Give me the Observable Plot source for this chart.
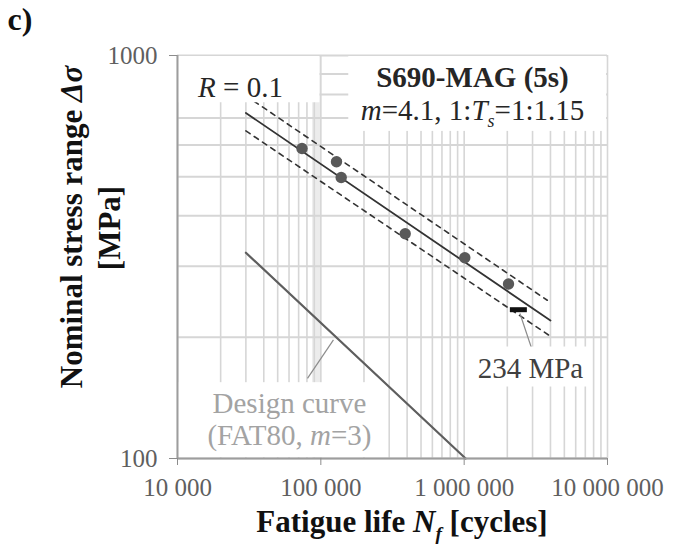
<!DOCTYPE html>
<html>
<head>
<meta charset="utf-8">
<script src="https://cdn.jsdelivr.net/npm/d3@7"></script>
<script src="https://cdn.jsdelivr.net/npm/@observablehq/plot@0.6"></script>
<style>
  html, body { margin: 0; padding: 0; background: #fff; }
</style>
</head>
<body>
<div id="chart"></div>
<script>
// Fatigue test results, S690 MAG welds (5 s), R = 0.1
const testCycles = [73900, 128600, 138700, 387800, 1010000, 2039000];
const testStress = [588, 545, 498, 361, 315, 271];

// Mean S-N curve and scatter band lines (end points)
const meanCycles = [30000, 4000000];
const meanStress = [720, 220];
const upperCycles = [30000, 3800000];
const upperStress = [795, 247];
const lowerCycles = [30000, 4000000];
const lowerStress = [650, 201];

// Design curve FAT80, m = 3 (end points)
const designCycles = [30000, 1024000];
const designStress = [324, 100];

// Characteristic stress range at 2 million cycles
const refCycles = 2000000;
const charStress = 234;

// Axes
const xDomain = [10000, 10000000];
const yDomain = [100, 1000];
const xTicks = [10000, 100000, 1000000, 10000000];
const yTicks = [100, 1000];
const shadeCycles = 93500;

// Leader lines from labels to the curves
const leaders = [
  {n1: 80700, s1: 158, n2: 122500, s2: 197},
  {n1: 2450000, s1: 229, n2: 2950000, s2: 188}
];

// Labels inside the plot (*italic*, _subscript_)
const notes = [
  {key: "r", n: 27500, s: 833, text: "*R* = 0.1", weight: "normal", fill: "#262626"},
  {key: "title", n: 1143000, s: 882, text: "S690-MAG (5s)", weight: "bold", fill: "#262626"},
  {key: "title", n: 1143000, s: 730, text: "*m*=4.1, 1:*T*_s_=1:1.15", weight: "normal", fill: "#262626"},
  {key: "mpa", n: 2900000, s: 167, text: "234 MPa", weight: "normal", fill: "#404040"},
  {key: "design", n: 60400, s: 137, text: "Design curve", weight: "normal", fill: "#a3a3a3"},
  {key: "design", n: 60400, s: 114, text: "(FAT80, *m*=3)", weight: "normal", fill: "#a3a3a3"}
];
// White label backgrounds: padding [top, right, bottom, left]
const boxPad = {r: [30, 37, 0, 30], title: [30, 30, 0, 12], design: [4, 7, 20, 40], mpa: [5, 7, 3, 7]};

const rows = (ns, ss) => ns.map((n, i) => ({n, s: ss[i]}));
const tests = rows(testCycles, testStress);
const xGrid = d3.scaleLog().domain(xDomain).ticks();
const yGrid = d3.scaleLog().domain(yDomain).ticks();
const fmtX = d => d3.format(",")(d).replace(/,/g, " ");
const fmtY = d => String(d);

const lineStyle = {x: "n", y: "s", stroke: "#333333"};

const plot = Plot.plot({
  width: 679,
  height: 547,
  marginLeft: 177,
  marginRight: 72,
  marginTop: 55,
  marginBottom: 89,
  style: {fontFamily: "'Liberation Serif', 'Times New Roman', serif", background: "#fff"},
  x: {type: "log", domain: xDomain, axis: null},
  y: {type: "log", domain: yDomain, axis: null},
  marks: [
    Plot.ruleX([shadeCycles], {stroke: "#ececec", strokeWidth: 9}),
    Plot.ruleX(xGrid, {stroke: "#d6d6d6", strokeWidth: 1.6}),
    Plot.ruleY(yGrid, {stroke: "#d6d6d6", strokeWidth: 2}),
    Plot.line(rows(designCycles, designStress), {x: "n", y: "s", stroke: "#5e5e5e", strokeWidth: 2.2}),
    Plot.line(rows(upperCycles, upperStress), {...lineStyle, strokeWidth: 1.6, strokeDasharray: "5,5"}),
    Plot.line(rows(lowerCycles, lowerStress), {...lineStyle, strokeWidth: 1.6, strokeDasharray: "5,5"}),
    Plot.line(rows(meanCycles, meanStress), {...lineStyle, strokeWidth: 1.8}),
    Plot.dot(tests, {x: "n", y: "s", r: 5.7, fill: "#595959"}),
    Plot.link(leaders, {x1: "n1", y1: "s1", x2: "n2", y2: "s2", stroke: "#8c8c8c", strokeWidth: 1.2}),
    Plot.ruleY([charStress], {x1: refCycles * 1.05, x2: refCycles * 1.38, stroke: "#111", strokeWidth: 5}),
    ...notes.map(d => Plot.text([d], {
      x: "n", y: "s", text: "text", fontSize: 29, fontWeight: d.weight, fill: d.fill,
      textAnchor: "middle", ariaDescription: d.key
    })),
    Plot.ruleX([xDomain[0]], {stroke: "#9d9d9d", strokeWidth: 2}),
    Plot.ruleY([yDomain[0]], {stroke: "#9d9d9d", strokeWidth: 2}),
    Plot.axisX({ticks: xTicks, tickFormat: fmtX, tickSize: 7, tickPadding: 13, fontSize: 25, stroke: "#8c8c8c", fill: "#5f5f5f", label: null}),
    Plot.axisY({ticks: yTicks, tickFormat: fmtY, tickSize: 8, tickPadding: 12, fontSize: 25, stroke: "#8c8c8c", fill: "#5f5f5f", label: null})
  ]
});
document.getElementById("chart").append(plot);

const NS = "http://www.w3.org/2000/svg";
// Turn *italic* and _subscript_ markup into tspans
function richify(el) {
  const src = el.textContent;
  if (!/[*_]/.test(src)) return;
  const fs = parseFloat(getComputedStyle(el).fontSize) || 16;
  el.textContent = "";
  let shift = 0;
  for (const part of src.split(/(\*[^*]+\*|_[^_]+_)/)) {
    if (!part) continue;
    const t = document.createElementNS(NS, "tspan");
    let dy;
    if (part[0] === "_") {
      t.textContent = part.slice(1, -1);
      t.setAttribute("font-style", "italic");
      t.setAttribute("font-size", fs * 0.62);
      dy = fs * 0.26 - shift; shift = fs * 0.26;
    } else {
      if (part[0] === "*") { t.textContent = part.slice(1, -1); t.setAttribute("font-style", "italic"); }
      else t.textContent = part;
      dy = -shift; shift = 0;
    }
    if (dy) t.setAttribute("dy", dy);
    el.appendChild(t);
  }
}
plot.querySelectorAll("text").forEach(richify);

// White backgrounds behind the in-plot labels
const [fx0, fx1] = d3.extent(plot.scale("x").range);
const [fy0, fy1] = d3.extent(plot.scale("y").range);
const firstNote = plot.querySelector("g[aria-description]");
for (const key of Object.keys(boxPad)) {
  const groups = plot.querySelectorAll(`g[aria-description="${key}"]`);
  let x0 = Infinity, y0 = Infinity, x1 = -Infinity, y1 = -Infinity;
  groups.forEach(g => {
    const b = g.getBBox();
    x0 = Math.min(x0, b.x); y0 = Math.min(y0, b.y);
    x1 = Math.max(x1, b.x + b.width); y1 = Math.max(y1, b.y + b.height);
  });
  const [pt, pr, pb, pl] = boxPad[key];
  const bx0 = Math.max(fx0 + 1, x0 - pl), bx1 = Math.min(fx1 - 1, x1 + pr);
  const by0 = Math.max(fy0 + 1, y0 - pt), by1 = Math.min(fy1 - 1, y1 + pb);
  const rect = document.createElementNS(NS, "rect");
  rect.setAttribute("x", bx0); rect.setAttribute("y", by0);
  rect.setAttribute("width", bx1 - bx0); rect.setAttribute("height", by1 - by0);
  rect.setAttribute("fill", "#fff");
  plot.insertBefore(rect, firstNote);
}

// Panel letter and axis titles
const svg = d3.select(plot);
svg.append("text").attr("x", 20).attr("y", 30)
  .attr("font-size", 32).attr("font-weight", "bold").attr("fill", "#111").text("c)");
svg.append("text").attr("x", 402).attr("y", 532).attr("text-anchor", "middle")
  .attr("font-size", 31).attr("font-weight", "bold").attr("fill", "#111")
  .text("Fatigue life *N*_f_ [cycles]");
svg.append("text").attr("transform", "translate(71,227) rotate(-90)").attr("dy", "0.35em")
  .attr("text-anchor", "middle").attr("font-size", 31).attr("font-weight", "bold").attr("fill", "#111")
  .text("Nominal stress range *Δσ*");
svg.append("text").attr("transform", "translate(109,228) rotate(-90)").attr("dy", "0.35em")
  .attr("text-anchor", "middle").attr("font-size", 31).attr("font-weight", "bold").attr("fill", "#111")
  .text("[MPa]");
svg.selectAll(":scope > text").each(function () { richify(this); });
</script>
</body>
</html>
